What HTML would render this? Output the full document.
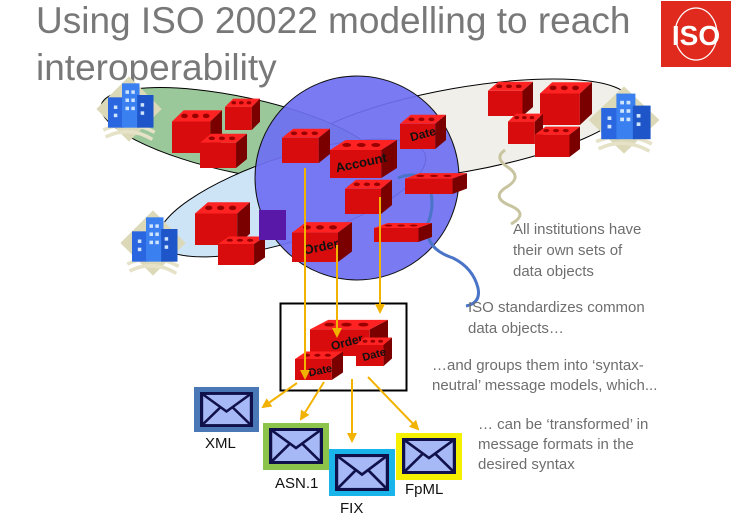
<!DOCTYPE html>
<html><head><meta charset="utf-8"><style>
html,body{margin:0;padding:0;background:#fff;}
svg{display:block;font-family:"Liberation Sans",sans-serif;}
</style></head><body>
<svg width="753" height="516" viewBox="0 0 753 516" xmlns="http://www.w3.org/2000/svg">
<defs>
<symbol id="br" viewBox="0 0 60 40" preserveAspectRatio="none">
<polygon points="0,12 14,2 60,2 46,12" fill="#f22"/>
<rect x="0" y="12" width="46" height="28" fill="#d80c0c"/>
<polygon points="46,12 60,2 60,30 46,40" fill="#7a0000"/>
<g fill="#900"><ellipse cx="15" cy="7" rx="4" ry="2"/><ellipse cx="28" cy="7" rx="4" ry="2"/><ellipse cx="41" cy="7" rx="4" ry="2"/></g>
</symbol>
<symbol id="bd" viewBox="0 0 60 60" preserveAspectRatio="none">
<polygon points="30,2 58,30 30,58 2,30" fill="#dcd9b8"/>
<path d="M8 48 Q30 38 52 50" stroke="#e5e2c8" stroke-width="3" fill="none"/>
<path d="M10 54 Q30 44 50 56" stroke="#e5e2c8" stroke-width="3" fill="none"/>
<rect x="12" y="20" width="14" height="26" fill="#2a66e0"/>
<rect x="24" y="8" width="15" height="38" fill="#3a80f0"/>
<rect x="37" y="18" width="14" height="28" fill="#1e55c8"/>
<g fill="#cfe4ff"><rect x="27" y="14" width="3" height="3"/><rect x="32" y="14" width="3" height="3"/><rect x="27" y="21" width="3" height="3"/><rect x="32" y="21" width="3" height="3"/><rect x="27" y="28" width="3" height="3"/><rect x="32" y="28" width="3" height="3"/><rect x="17" y="27" width="3" height="3"/><rect x="40" y="25" width="3" height="3"/><rect x="40" y="32" width="3" height="3"/><rect x="17" y="34" width="3" height="3"/></g>
</symbol>
<symbol id="env" viewBox="0 0 50 36" preserveAspectRatio="none">
<rect x="1.5" y="1.5" width="47" height="33" fill="#a6b8f5" stroke="#10104a" stroke-width="3"/>
<path d="M1.5 1.5 L25 20 L48.5 1.5 M1.5 34.5 L19 16 M48.5 34.5 L31 16" stroke="#10104a" stroke-width="2.5" fill="none"/>
</symbol>
<marker id="ar" viewBox="0 0 10 10" refX="8" refY="5" markerWidth="5" markerHeight="5" orient="auto"><path d="M0 0L10 5L0 10z" fill="#f2b200"/></marker>
</defs>

<text x="36" y="33" font-size="37" fill="#787878">Using ISO 20022 modelling to reach</text>
<text x="36" y="80" font-size="37" fill="#787878">interoperability</text>

<rect x="661" y="1" width="70" height="66" fill="#e02a1e"/>
<ellipse cx="696" cy="34" rx="21" ry="26" fill="none" stroke="#fff" stroke-width="1.2"/>
<text x="696" y="45" font-size="28" font-weight="bold" fill="#fff" text-anchor="middle" font-family="Liberation Sans,sans-serif">ISO</text>

<ellipse cx="460" cy="130" rx="172" ry="42" transform="rotate(-10 460 130)" fill="#f0efe9" stroke="#000"/>
<ellipse cx="240" cy="135" rx="142" ry="38" transform="rotate(12 240 135)" fill="#9bc89b" stroke="#000"/>
<ellipse cx="292" cy="198" rx="140" ry="42" transform="rotate(-18 292 198)" fill="#cde3f6" stroke="#000"/>
<circle cx="357" cy="178" r="102" fill="#6f6ff2" fill-opacity="0.92" stroke="#111"/>

<path d="M505 150 q-12 8 4 18 q14 10 -4 20 q-14 10 6 18 q18 8 0 18" stroke="#c8c4a0" stroke-width="3" fill="none"/>
<path d="M398 178 q20 -8 30 5 q8 20 0 40 q-5 25 25 35 q20 10 25 30 q3 15 -12 18" stroke="#4a74c8" stroke-width="3" fill="none"/>

<use href="#bd" x="94" y="74" width="70" height="70"/>
<use href="#bd" x="118" y="208" width="70" height="70"/>
<use href="#bd" x="586" y="84" width="76" height="72"/>

<use href="#br" x="172" y="108" width="50" height="45"/>
<use href="#br" x="225" y="97" width="35" height="33"/>
<use href="#br" x="200" y="132" width="47" height="36"/>
<use href="#br" x="195" y="200" width="55" height="45"/>
<use href="#br" x="218" y="235" width="47" height="30"/>
<rect x="259" y="210" width="27" height="30" fill="#5a18a8"/>
<use href="#br" x="488" y="80" width="45" height="36"/>
<use href="#br" x="540" y="80" width="52" height="45"/>
<use href="#br" x="508" y="112" width="35" height="32"/>
<use href="#br" x="535" y="125" width="45" height="32"/>

<use href="#br" x="282" y="127" width="48" height="36"/>
<use href="#br" x="330" y="138" width="67" height="40"/>
<text x="362" y="167" font-size="13" font-weight="bold" fill="#111" text-anchor="middle" transform="rotate(-12 362 167)">Account</text>
<use href="#br" x="400" y="113" width="46" height="36"/>
<text x="424" y="138" font-size="12" font-weight="bold" fill="#111" text-anchor="middle" transform="rotate(-15 424 138)">Date</text>
<use href="#br" x="345" y="178" width="47" height="36"/>
<use href="#br" x="405" y="172" width="62" height="22"/>
<use href="#br" x="374" y="222" width="58" height="20"/>
<use href="#br" x="292" y="220" width="60" height="42"/>
<text x="322" y="251" font-size="13" font-weight="bold" fill="#111" text-anchor="middle" transform="rotate(-12 322 251)">Order</text>

<rect x="280.5" y="303.5" width="126" height="87" fill="#fff" stroke="#000" stroke-width="2"/>
<use href="#br" x="310" y="318" width="78" height="38"/>
<text x="348" y="346" font-size="12" font-weight="bold" fill="#111" text-anchor="middle" transform="rotate(-15 348 346)">Order</text>
<use href="#br" x="356" y="336" width="36" height="30"/>
<text x="375" y="358" font-size="11" font-weight="bold" fill="#111" text-anchor="middle" transform="rotate(-15 375 358)">Date</text>
<use href="#br" x="295" y="350" width="48" height="30"/>
<text x="321" y="374" font-size="11" font-weight="bold" fill="#111" text-anchor="middle" transform="rotate(-12 321 374)">Date</text>

<g stroke="#f2b200" stroke-width="2" fill="none" marker-end="url(#ar)">
<line x1="305" y1="168" x2="305" y2="378"/>
<line x1="337" y1="245" x2="337" y2="336"/>
<line x1="380" y1="197" x2="380" y2="312"/>
<line x1="297" y1="383" x2="263" y2="407"/>
<line x1="324" y1="382" x2="301" y2="419"/>
<line x1="352" y1="379" x2="352" y2="441"/>
<line x1="368" y1="377" x2="418" y2="429"/>
</g>

<rect x="194" y="387" width="65" height="45" fill="#4a78b6"/>
<use href="#env" x="200" y="392" width="53" height="35"/>
<rect x="263" y="423" width="66" height="47" fill="#8cc34a"/>
<use href="#env" x="269" y="428" width="54" height="36"/>
<rect x="329" y="449" width="66" height="47" fill="#19b4ea"/>
<use href="#env" x="335" y="454" width="54" height="37"/>
<rect x="396" y="433" width="66" height="47" fill="#f4f000"/>
<use href="#env" x="402" y="438" width="54" height="36"/>

<g font-size="15" fill="#111">
<text x="205" y="448">XML</text>
<text x="275" y="488">ASN.1</text>
<text x="340" y="513">FIX</text>
<text x="405" y="494">FpML</text>
</g>

<g font-size="15" fill="#6e6e6e">
<text x="513" y="234">All institutions have</text>
<text x="513" y="255">their own sets of</text>
<text x="513" y="276">data objects</text>
<text x="468" y="312">ISO standardizes common</text>
<text x="468" y="333">data objects…</text>
<text x="432" y="370">…and groups them into ‘syntax-</text>
<text x="432" y="390">neutral’ message models, which...</text>
<text x="478" y="429">… can be ‘transformed’ in</text>
<text x="478" y="449">message formats in the</text>
<text x="478" y="469">desired syntax</text>
</g>
</svg>
</body></html>
